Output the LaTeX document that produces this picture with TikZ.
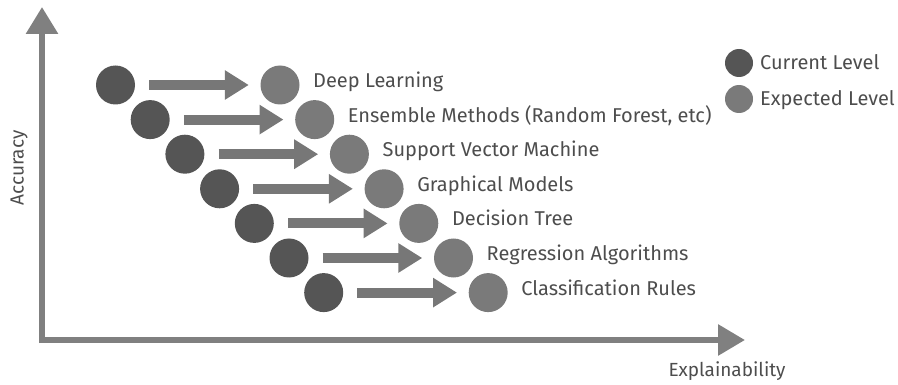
\documentclass[tikz,border=0pt]{standalone}
\usepackage{fontspec}
\setmainfont{Fira Sans}
\usetikzlibrary{arrows.meta}
\definecolor{darkc}{HTML}{555555}
\definecolor{lightc}{HTML}{7A7A7A}
\definecolor{arrc}{HTML}{777777}
\definecolor{axisc}{HTML}{808080}
\definecolor{txtc}{HTML}{4D4D4D}
\begin{document}
\begin{tikzpicture}[x=1pt,y=-1pt,
  cur/.style={circle, fill=darkc, minimum size=39pt, inner sep=0pt},
  expd/.style={circle, fill=lightc, minimum size=39pt, inner sep=0pt},
  lab/.style={anchor=base west, text=txtc, font=\fontsize{20}{20}\selectfont, inner sep=0pt},
  flow/.style={draw=arrc, line width=10pt, -{Triangle[length=24pt, width=28pt]}, shorten <=14pt, shorten >=11.5pt},
  axisline/.style={draw=axisc, line width=6pt},
]
\useasboundingbox (0,0) rectangle (898,385);
% axes
\coordinate (corner) at (42,340);
\coordinate (ytip) at (42,7);
\coordinate (xtip) at (745,340);
\draw[axisline, -{Triangle[length=27pt,width=31pt]}] ([yshift=-3pt]corner) -- (ytip);
\draw[axisline, -{Triangle[length=27pt,width=30pt]}] ([xshift=-3pt]corner) -- (xtip);
\node[text=txtc, font=\fontsize{19}{19}\selectfont, anchor=base, inner sep=0pt] (xl) at (727,376) {Explainability};
\node[text=txtc, font=\fontsize{19}{19}\selectfont, rotate=90, inner sep=0pt] (yl) at (19,168) {Accuracy};
% rows
\foreach \i/\t in {0/Deep Learning, 1/{Ensemble Methods (Random Forest, etc)}, 2/Support Vector Machine, 3/Graphical Models, 4/Decision Tree, 5/Regression Algorithms, 6/Classification Rules}{
  \pgfmathsetmacro{\cx}{115.5+34.7*\i}
  \pgfmathsetmacro{\cy}{85+34.6*\i}
  \node[cur] (d\i) at (\cx,\cy) {};
  \node[expd] (e\i) at (\cx+164.5,\cy) {};
  \draw[flow] (d\i.east) -- (e\i.west);
  \node[lab] (t\i) at (\cx+197.5,\cy+2.5) {\t};
}
% legend
\node[cur, minimum size=28pt] (lc) at (739,63) {};
\node[expd, minimum size=28pt] (le) at (739,99) {};
\node[lab] (lct) at (760,70) {Current Level};
\node[lab] (let) at (760,106) {Expected Level};
\end{tikzpicture}
\end{document}
